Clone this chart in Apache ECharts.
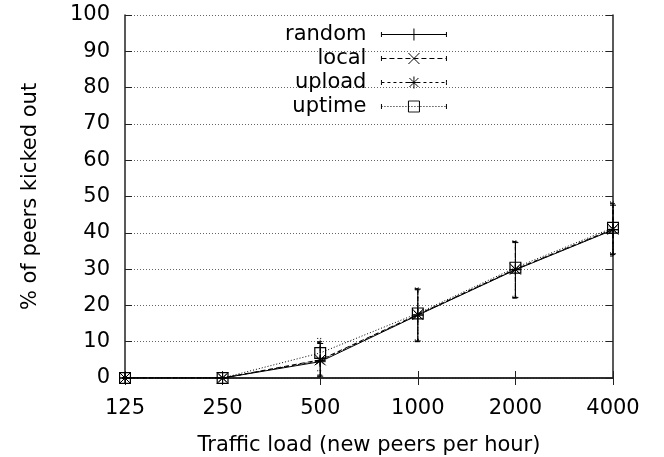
<!DOCTYPE html>
<html>
<head>
<meta charset="utf-8">
<script src="https://cdn.jsdelivr.net/npm/echarts@6/dist/echarts.min.js"></script>
<style>html,body{margin:0;padding:0;background:#fff;}#c{width:664px;height:457px;}</style>
</head>
<body>
<div id="c"></div>
<script>
// ---- data ----
var categories = ['125', '250', '500', '1000', '2000', '4000'];
var seriesNames = ['random', 'local', 'upload', 'uptime'];
var randomVals = [0, 0, 4.5, 17.3, 29.8, 40.8];
var localVals  = [0, 0, 5.0, 17.5, 30.0, 41.0];
var uploadVals = [0, 0, 4.8, 17.4, 29.9, 40.9];
var uptimeVals = [0, 0, 6.9, 17.8, 30.4, 41.4];
var randomLow  = [0, 0, 0.5, 10.2, 22.2, 34.2];
var randomHigh = [0, 0, 9.5, 24.5, 37.3, 47.6];
var localLow   = [0, 0, 0.8, 10.0, 22.0, 34.0];
var localHigh  = [0, 0, 10.0, 24.3, 37.5, 48.0];
var uploadLow  = [0, 0, 0.3, 10.1, 22.1, 33.6];
var uploadHigh = [0, 0, 9.8, 24.6, 37.6, 48.2];
var uptimeLow  = [0, 0, 2.0, 10.5, 22.5, 34.5];
var uptimeHigh = [0, 0, 10.9, 24.8, 37.8, 48.5];

var FONT = 'DejaVu Sans';
var FS = 21;
var values = [randomVals, localVals, uploadVals, uptimeVals];
var lows = [randomLow, localLow, uploadLow, uptimeLow];
var highs = [randomHigh, localHigh, uploadHigh, uptimeHigh];
var lineTypes = ['solid', [5, 3], [3, 3], [1, 2]];
var symbols = [
  'path://M5,0L5,10M0,5L10,5',
  'path://M0,0L10,10M10,0L0,10',
  'path://M5,0L5,10M0,5L10,5M1.5,1.5L8.5,8.5M8.5,1.5L1.5,8.5',
  'path://M0,0L10,0L10,10L0,10ZM1,1L1,9L9,9L9,1Z'
];

// split a segment into short sub-paths so a dash pattern leaves it solid
function seg(x1, y1, x2, y2, maxLen) {
  var len = Math.sqrt((x2 - x1) * (x2 - x1) + (y2 - y1) * (y2 - y1));
  var n = Math.max(1, Math.ceil(len / maxLen));
  var s = '';
  for (var k = 0; k < n; k++) {
    var a = k / n, b = (k + 1) / n;
    s += 'M' + (x1 + (x2 - x1) * a).toFixed(2) + ',' + (y1 + (y2 - y1) * a).toFixed(2) +
         'L' + (x1 + (x2 - x1) * b).toFixed(2) + ',' + (y1 + (y2 - y1) * b).toFixed(2);
  }
  return s;
}
// legend sample (65 x 12 box): line with error-bar end caps, marker in the middle
function legendIcon(i) {
  var on = i === 0 ? 1000 : lineTypes[i][0];
  var p = seg(0, 3.5, 0, 8.5, on) + 'M0,6L65,6' + seg(65, 3.5, 65, 8.5, on);
  if (i === 0) {
    p += seg(32.5, 0, 32.5, 12, on) + seg(26.5, 6, 38.5, 6, on);
  } else if (i === 1) {
    p += seg(27, 0.5, 38, 11.5, on) + seg(38, 0.5, 27, 11.5, on);
  } else if (i === 2) {
    p += seg(32.5, 0, 32.5, 12, on) + seg(26.5, 6, 38.5, 6, on) +
         seg(28, 1.5, 37, 10.5, on) + seg(37, 1.5, 28, 10.5, on);
  } else {
    p += seg(27, 0.5, 38, 0.5, on) + seg(38, 0.5, 38, 11.5, on) +
         seg(38, 11.5, 27, 11.5, on) + seg(27, 11.5, 27, 0.5, on);
  }
  return 'path://' + p;
}

var series = [];
seriesNames.forEach(function (name, i) {
  var errData = categories.map(function (c, j) { return [j, lows[i][j], highs[i][j]]; });
  series.push({
    name: name + '_err',
    type: 'custom',
    silent: true,
    z: 1,
    data: errData,
    renderItem: function (params, api) {
      var x = api.value(0);
      var lo = api.coord([x, api.value(1)]);
      var hi = api.coord([x, api.value(2)]);
      var w = 3;
      var st = { stroke: '#000', lineWidth: 1, lineDash: i === 0 ? null : lineTypes[i] };
      return {
        type: 'group',
        children: [
          { type: 'line', shape: { x1: lo[0], y1: lo[1], x2: hi[0], y2: hi[1] }, style: st },
          { type: 'line', shape: { x1: lo[0] - w, y1: lo[1], x2: lo[0] + w, y2: lo[1] }, style: st },
          { type: 'line', shape: { x1: hi[0] - w, y1: hi[1], x2: hi[0] + w, y2: hi[1] }, style: st }
        ]
      };
    }
  });
  series.push({
    name: name,
    type: 'line',
    z: 2,
    data: values[i],
    symbol: symbols[i],
    symbolSize: i === 3 ? 12 : 11,
    showSymbol: true,
    lineStyle: { color: '#000', width: 1, type: lineTypes[i] },
    itemStyle: { color: '#000', borderColor: '#000', borderWidth: i === 3 ? 0 : 1 },
    emphasis: { disabled: true }
  });
});

var legendData = seriesNames.map(function (name, i) {
  return {
    name: name,
    icon: legendIcon(i),
    itemStyle: { color: 'none', borderColor: '#000', borderWidth: 1, borderType: lineTypes[i] }
  };
});

var chart = echarts.init(document.getElementById('c'));
chart.setOption({
  animation: false,
  backgroundColor: '#fff',
  grid: { left: 125, right: 51, top: 15, bottom: 79, show: false, containLabel: false, outerBoundsMode: 'none' },
  legend: {
    data: legendData,
    orient: 'vertical',
    align: 'right',
    left: 285,
    top: 24,
    padding: 0,
    itemGap: 3,
    itemWidth: 65,
    itemHeight: 12,
    selectedMode: false,
    textStyle: { fontFamily: FONT, fontSize: FS, color: '#000', width: 100, align: 'right', padding: [0, 10, 0, 0] }
  },
  xAxis: [{
    type: 'category',
    data: categories,
    boundaryGap: false,
    position: 'bottom',
    name: 'Traffic load (new peers per hour)',
    nameLocation: 'middle',
    nameGap: 57,
    nameTextStyle: { fontFamily: FONT, fontSize: FS, color: '#000' },
    axisLine: { show: true, lineStyle: { color: '#222', width: 1.5 } },
    axisTick: { show: true, inside: true, length: 7, lineStyle: { color: '#222' } },
    axisLabel: { fontFamily: FONT, fontSize: FS, color: '#000', margin: 20 },
    splitLine: { show: false }
  }, {
    type: 'category',
    data: categories,
    boundaryGap: false,
    position: 'top',
    axisLine: { show: true, lineStyle: { color: '#222', width: 1.5 } },
    axisTick: { show: true, inside: true, length: 7, lineStyle: { color: '#222' } },
    axisLabel: { show: false },
    splitLine: { show: false }
  }],
  yAxis: [{
    type: 'value',
    min: 0, max: 100, interval: 10,
    position: 'left',
    name: '% of peers kicked out',
    nameLocation: 'middle',
    nameGap: 84,
    nameTextStyle: { fontFamily: FONT, fontSize: FS, color: '#000' },
    axisLine: { show: true, lineStyle: { color: '#222', width: 1.5 } },
    axisTick: { show: true, inside: true, length: 7, lineStyle: { color: '#222' } },
    axisLabel: { fontFamily: FONT, fontSize: FS, color: '#000', margin: 15 },
    splitLine: { show: true, lineStyle: { color: '#666', type: [1, 2], width: 1 } }
  }, {
    type: 'value',
    min: 0, max: 100, interval: 10,
    position: 'right',
    axisLine: { show: true, lineStyle: { color: '#222', width: 1.5 } },
    axisTick: { show: true, inside: true, length: 7, lineStyle: { color: '#222' } },
    axisLabel: { show: false },
    splitLine: { show: false }
  }],
  series: series
});
</script>
</body>
</html>
